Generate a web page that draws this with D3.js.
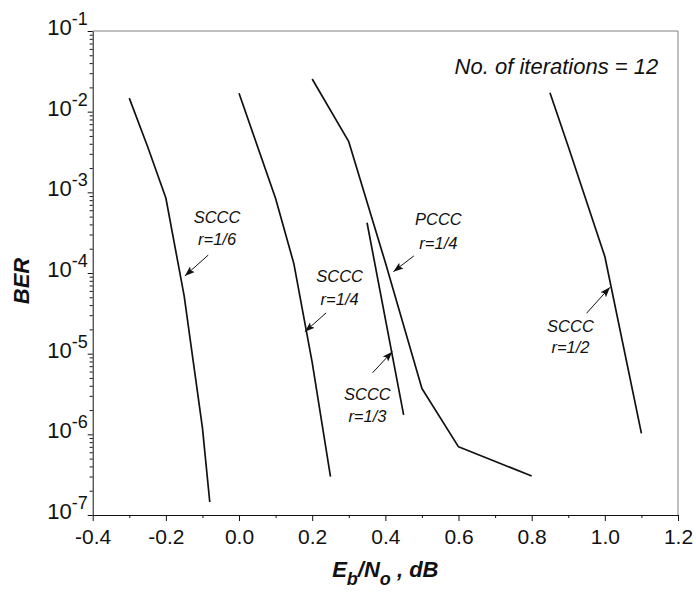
<!DOCTYPE html>
<html>
<head>
<meta charset="utf-8">
<script src="https://cdn.jsdelivr.net/npm/d3@7"></script>
<style>
  body { margin: 0; background: #fff; }
  svg { display: block; font-family: Arial, "Liberation Sans", sans-serif; }
</style>
</head>
<body>
<div id="chart"></div>
<script>
// Eb/No (dB) and BER
const scccR6X = [-0.3, -0.25, -0.2, -0.15, -0.1, -0.08];
const scccR6Ber = [1.47e-2, 3.7e-3, 8.5e-4, 5.2e-5, 1.2e-6, 1.45e-7];
const scccR4X = [0.0, 0.1, 0.15, 0.2, 0.25];
const scccR4Ber = [1.69e-2, 8.4e-4, 1.3e-4, 7.8e-6, 3.0e-7];
const pcccR4X = [0.2, 0.3, 0.4, 0.5, 0.6, 0.8];
const pcccR4Ber = [2.54e-2, 4.25e-3, 1.35e-4, 3.7e-6, 7.0e-7, 3.05e-7];
const scccR3X = [0.35, 0.4, 0.45];
const scccR3Ber = [4.2e-4, 2.7e-5, 1.74e-6];
const scccR2X = [0.85, 0.9, 1.0, 1.1];
const scccR2Ber = [1.72e-2, 3.7e-3, 1.6e-4, 1.03e-6];

// tick values
const xMajorTicks = [-0.4, -0.2, 0.0, 0.2, 0.4, 0.6, 0.8, 1.0, 1.2];
const xMinorTicks = [-0.3, -0.1, 0.1, 0.3, 0.5, 0.7, 0.9, 1.1];
const yDecades = [1e-7, 1e-6, 1e-5, 1e-4, 1e-3, 1e-2, 1e-1];
const yExponents = ["-7", "-6", "-5", "-4", "-3", "-2", "-1"];

// curve annotations (data coordinates)
const labelNames = ["SCCC", "SCCC", "PCCC", "SCCC", "SCCC"];
const labelRates = ["r=1/6", "r=1/4", "r=1/4", "r=1/3", "r=1/2"];
const labelX = [-0.06, 0.275, 0.545, 0.351, 0.906];
const labelNameBer = [4.2e-4, 7.7e-5, 3.9e-4, 2.67e-6, 1.87e-5];
const labelRateBer = [2.2e-4, 4.0e-5, 2.0e-4, 1.44e-6, 1.01e-5];
const arrowTailX = [-0.084, 0.238, 0.478, 0.365, 0.950];
const arrowTailBer = [1.67e-4, 3.2e-5, 1.63e-4, 5.8e-6, 3.17e-5];
const arrowTipX = [-0.148, 0.180, 0.422, 0.419, 1.014];
const arrowTipBer = [9.2e-5, 1.87e-5, 1.04e-4, 1.06e-5, 6.65e-5];

const noteText = "No. of iterations = 12";
const noteX = 1.146;
const noteBer = 2.93e-2;

const width = 696;
const height = 593;
const margin = { top: 31, right: 18, bottom: 78, left: 92.7 };

const svg = d3
  .select("#chart")
  .append("svg")
  .attr("width", width)
  .attr("height", height);

const x = d3
  .scaleLinear()
  .domain([-0.4, 1.2])
  .range([margin.left, width - margin.right]);

const y = d3
  .scaleLog()
  .domain([1e-7, 1e-1])
  .range([height - margin.bottom, margin.top]);

// frame: grey top and right edges
svg.append("line")
  .attr("x1", x(-0.4)).attr("x2", x(1.2))
  .attr("y1", y(1e-1)).attr("y2", y(1e-1))
  .attr("stroke", "#808080").attr("stroke-width", 1);
svg.append("line")
  .attr("x1", x(1.2)).attr("x2", x(1.2))
  .attr("y1", y(1e-1)).attr("y2", y(1e-7))
  .attr("stroke", "#808080").attr("stroke-width", 1);

// x axis
const xAxisG = svg.append("g")
  .attr("transform", `translate(0, ${y(1e-7)})`);
xAxisG.call(
  d3.axisBottom(x)
    .tickValues(xMajorTicks)
    .tickSize(6)
    .tickSizeOuter(0)
    .tickPadding(8)
    .tickFormat((d) => d.toFixed(1))
);
xAxisG.append("g").call(
  d3.axisBottom(x).tickValues(xMinorTicks).tickSize(3).tickFormat("")
).select(".domain").remove();
xAxisG.selectAll("text")
  .attr("font-size", 21)
  .attr("font-family", "Arial, 'Liberation Sans', sans-serif")
  .attr("fill", "#111");

// y axis, log minor ticks
const yMinorTicks = [];
for (let e = -7; e < -1; e++) {
  for (let m = 2; m <= 9; m++) yMinorTicks.push(m * Math.pow(10, e));
}
const yAxisG = svg.append("g")
  .attr("transform", `translate(${x(-0.4)}, 0)`);
yAxisG.call(
  d3.axisLeft(y).tickValues(yDecades).tickSize(5).tickSizeOuter(0).tickFormat("")
);
yAxisG.append("g").call(
  d3.axisLeft(y).tickValues(yMinorTicks).tickSize(3).tickFormat("")
).select(".domain").remove();
svg.selectAll(".domain").attr("stroke", "#111");
svg.selectAll(".tick line").attr("stroke", "#111");

// y tick labels: 10 with superscript
const yLabels = svg.append("g");
yDecades.forEach((d, i) => {
  const t = yLabels.append("text")
    .attr("x", x(-0.4) - 5)
    .attr("y", y(d) + 4)
    .attr("text-anchor", "end")
    .attr("font-size", 22)
    .attr("fill", "#111");
  t.append("tspan").text("10");
  t.append("tspan")
    .attr("dy", -10)
    .attr("font-size", 18)
    .text(yExponents[i]);
});

// curves
const series = [
  [scccR6X, scccR6Ber],
  [scccR4X, scccR4Ber],
  [pcccR4X, pcccR4Ber],
  [scccR3X, scccR3Ber],
  [scccR2X, scccR2Ber]
];
const line = d3.line()
  .x((d) => x(d[0]))
  .y((d) => y(d[1]));

svg.append("g")
  .selectAll("path")
  .data(series.map((s) => s[0].map((v, i) => [v, s[1][i]])))
  .enter()
  .append("path")
  .attr("d", line)
  .attr("fill", "none")
  .attr("stroke", "#111")
  .attr("stroke-width", 1.7)
  .attr("stroke-linejoin", "round");

// arrow marker
svg.append("defs")
  .append("marker")
  .attr("id", "arrowhead")
  .attr("markerUnits", "userSpaceOnUse")
  .attr("viewBox", "0 -5 10 10")
  .attr("refX", 10)
  .attr("refY", 0)
  .attr("markerWidth", 10)
  .attr("markerHeight", 10)
  .attr("orient", "auto")
  .append("path")
  .attr("d", "M0,-3.6L10,0L0,3.6L2,0Z")
  .attr("fill", "#111");

svg.append("g")
  .selectAll("line")
  .data(arrowTailX)
  .enter()
  .append("line")
  .attr("x1", (d) => x(d))
  .attr("y1", (d, i) => y(arrowTailBer[i]))
  .attr("x2", (d, i) => x(arrowTipX[i]))
  .attr("y2", (d, i) => y(arrowTipBer[i]))
  .attr("stroke", "#111")
  .attr("stroke-width", 1)
  .attr("marker-end", "url(#arrowhead)");

// curve labels
const labels = svg.append("g")
  .attr("font-size", 16.5)
  .attr("font-style", "italic")
  .attr("text-anchor", "middle")
  .attr("fill", "#111");
labelNames.forEach((name, i) => {
  labels.append("text")
    .attr("x", x(labelX[i]))
    .attr("y", y(labelNameBer[i]))
    .text(name);
  labels.append("text")
    .attr("x", x(labelX[i]))
    .attr("y", y(labelRateBer[i]))
    .text(labelRates[i]);
});

svg.append("text")
  .attr("x", x(noteX))
  .attr("y", y(noteBer))
  .attr("text-anchor", "end")
  .attr("font-size", 22)
  .attr("font-style", "italic")
  .attr("fill", "#111")
  .text(noteText);

// axis titles
svg.append("text")
  .attr("transform", `translate(29, ${(margin.top + height - margin.bottom) / 2 + 8}) rotate(-90)`)
  .attr("text-anchor", "middle")
  .attr("font-size", 22)
  .attr("font-weight", "bold")
  .attr("font-style", "italic")
  .attr("fill", "#111")
  .text("BER");

const xTitle = svg.append("text")
  .attr("x", (x(-0.4) + x(1.2)) / 2)
  .attr("y", 577)
  .attr("text-anchor", "middle")
  .attr("font-size", 22)
  .attr("font-weight", "bold")
  .attr("font-style", "italic")
  .attr("fill", "#111");
xTitle.append("tspan").text("E");
xTitle.append("tspan").attr("dy", 8).attr("font-size", 18).text("b");
xTitle.append("tspan").attr("dy", -8).text("/N");
xTitle.append("tspan").attr("dy", 8).attr("font-size", 18).text("o");
xTitle.append("tspan").attr("dy", -8).text(" , dB");
</script>
</body>
</html>
